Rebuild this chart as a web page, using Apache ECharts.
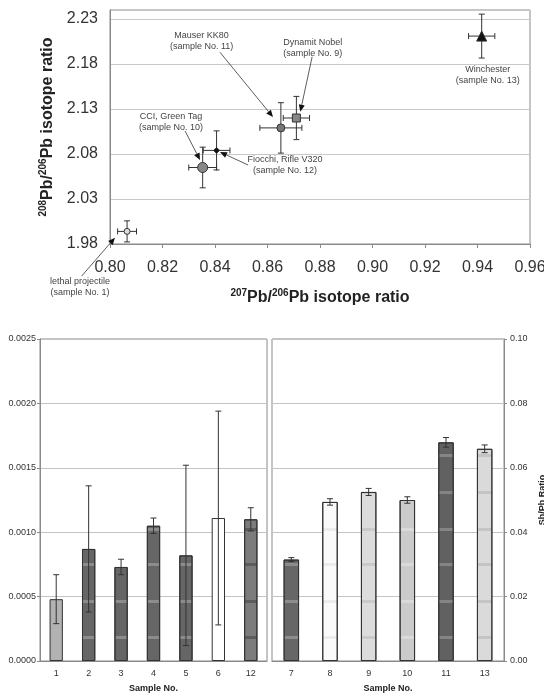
<!DOCTYPE html>
<html>
<head>
<meta charset="utf-8">
<script src="https://cdn.jsdelivr.net/npm/echarts@6/dist/echarts.min.js"></script>
<style>
  html, body { margin: 0; padding: 0; background: #fff; }
  #chart { width: 544px; height: 697px; }
</style>
</head>
<body>
<div id="chart"></div>
<script>
// isotope ratios (top plot), one entry per sample
var isoSamples = ['1', '10', '12', '11', '9', '13'];
var pb207 = [0.8065, 0.8353, 0.8406, 0.8651, 0.8710, 0.9416];
var pb207Err = [0.0036, 0.0053, 0.0051, 0.0080, 0.0050, 0.0050];
var pb208 = [1.994, 2.065, 2.084, 2.109, 2.120, 2.211];
var pb208Err = [0.0117, 0.0226, 0.0217, 0.0280, 0.0240, 0.0244];

// Cd/Pb ratio (bottom left)
var cdSamples = ['1', '2', '3', '4', '5', '6', '12'];
var cdRatio = [0.00048, 0.00087, 0.00073, 0.00105, 0.00082, 0.00111, 0.00110];
var cdErr = [0.00019, 0.00049, 0.00006, 0.00006, 0.00070, 0.00083, 0.00009];

// Sb/Pb ratio (bottom right)
var sbSamples = ['7', '8', '9', '10', '11', '13'];
var sbRatio = [0.0315, 0.0494, 0.0525, 0.0500, 0.0679, 0.0659];
var sbErr = [0.0006, 0.0010, 0.0011, 0.0010, 0.0015, 0.0012];

// annotations, in data units of the top plot
var notes = [
    { text: 'Mauser KK80\n(sample No. 11)', at: [0.8349, 2.206], from: [0.8419, 2.193], to: [0.8621, 2.121] },
    { text: 'Dynamit Nobel\n(sample No. 9)', at: [0.8772, 2.198], from: [0.8770, 2.188], to: [0.8725, 2.127] },
    { text: 'Winchester\n(sample No. 13)', at: [0.9439, 2.168] },
    { text: 'CCI, Green Tag\n(sample No. 10)', at: [0.8232, 2.1156], from: [0.8286, 2.1056], to: [0.8343, 2.0733] },
    { text: 'Fiocchi, Rifle V320\n(sample No. 12)', at: [0.8667, 2.0674], from: [0.8526, 2.0678], to: [0.8419, 2.0822] },
    { text: 'lethal projectile\n(sample No. 1)', at: [0.7886, 1.932], from: [0.7892, 1.9444], to: [0.8019, 1.987] }
]

// marker looks for the top plot
var isoSymbols = ['circle', 'circle', 'diamond', 'circle', 'rect', 'triangle'];
var isoSizes = [6, 10, 6, 8, 8, 10];
var isoFill = ['#dddddd', '#888888', '#111111', '#777777', '#888888', '#111111'];

var FONT = 'Liberation Sans, Arial, sans-serif';
var barTop = 339, barBottom = 661;
var stripeRows = [456, 492.7, 529.3, 565, 601.7, 637.3];

function striped(base, line) {
    var h = barBottom - barTop
    var stops = [{ offset: 0, color: base }]
    stripeRows.forEach(function (y) {
        var a = (y - 1.5 - barTop) / h, b = (y + 1.5 - barTop) / h
        stops.push({ offset: a, color: base }, { offset: a, color: line }, { offset: b, color: line }, { offset: b, color: base })
    })
    stops.push({ offset: 1, color: base })
    return new echarts.graphic.LinearGradient(0, barTop, 0, barBottom, stops, true)
}

var cdColors = ['#b2b2b2', striped('#666666', '#8c8c8c'), striped('#666666', '#8c8c8c'), striped('#666666', '#8c8c8c'),
    striped('#666666', '#8c8c8c'), '#ffffff', striped('#7c7c7c', '#5c5c5c')];
var sbColors = [striped('#676767', '#8c8c8c'), striped('#fafafa', '#ececec'), striped('#dcdcdc', '#c9c9c9'),
    striped('#cbcbcb', '#dadada'), striped('#616161', '#858585'), striped('#dadada', '#c4c4c4')];

function line(x1, y1, x2, y2) {
    return { type: 'line', shape: { x1: x1, y1: y1, x2: x2, y2: y2 }, style: { stroke: '#333', lineWidth: 1 } }
}

function crossBars(params, api) {
    var x = api.value(0), y = api.value(1), ex = api.value(2), ey = api.value(3)
    var l = api.coord([x - ex, y]), r = api.coord([x + ex, y])
    var t = api.coord([x, y + ey]), b = api.coord([x, y - ey])
    var c = 3
    return {
        type: 'group', children: [
            line(l[0], l[1], r[0], r[1]), line(l[0], l[1] - c, l[0], l[1] + c), line(r[0], r[1] - c, r[0], r[1] + c),
            line(t[0], t[1], b[0], b[1]), line(t[0] - c, t[1], t[0] + c, t[1]), line(b[0] - c, b[1], b[0] + c, b[1])
        ]
    }
}

function barErr(params, api) {
    var i = api.value(0), v = api.value(1), e = api.value(2)
    var t = api.coord([i, v + e]), b = api.coord([i, v - e])
    var c = 3
    return {
        type: 'group', children: [
            line(t[0], t[1], b[0], b[1]), line(t[0] - c, t[1], t[0] + c, t[1]), line(b[0] - c, b[1], b[0] + c, b[1])
        ]
    }
}

var nameRich = {
    b: { fontFamily: FONT, fontWeight: 'bold', fontSize: 16, color: '#222', lineHeight: 20 },
    sup: { fontFamily: FONT, fontWeight: 'bold', fontSize: 10, color: '#222', verticalAlign: 'top', lineHeight: 20, padding: [0, 0, 6, 0] }
}

var chart = echarts.init(document.getElementById('chart'))
chart.setOption({
    animation: false,
    textStyle: { fontFamily: FONT },
    grid: [
        { left: 110, top: 10, width: 420, height: 234, show: true, borderColor: '#8a8a8a', borderWidth: 1, outerBoundsMode: 'none' },
        { left: 40, top: barTop, width: 227, height: barBottom - barTop, show: true, borderColor: '#8a8a8a', borderWidth: 1, outerBoundsMode: 'none' },
        { left: 272, top: barTop, width: 232, height: barBottom - barTop, show: true, borderColor: '#8a8a8a', borderWidth: 1, outerBoundsMode: 'none' }
    ],
    xAxis: [
        {
            gridIndex: 0, type: 'value', min: 0.80, max: 0.96, interval: 0.02,
            name: '{sup|207}{b|Pb/}{sup|206}{b|Pb isotope ratio}', nameLocation: 'middle', nameGap: 44,
            nameTextStyle: { rich: nameRich },
            axisLine: { lineStyle: { color: '#8a8a8a' } },
            axisTick: { show: true, length: 4, lineStyle: { color: '#8a8a8a' } },
            axisLabel: { fontSize: 16, color: '#333', margin: 16, formatter: function (v) { return v.toFixed(2) } },
            splitLine: { show: false }
        },
        {
            gridIndex: 1, type: 'category', data: cdSamples,
            name: 'Sample No.', nameLocation: 'middle', nameGap: 23,
            nameTextStyle: { fontSize: 9, fontWeight: 'bold', color: '#222' },
            axisLine: { lineStyle: { color: '#8a8a8a' } },
            axisTick: { length: 3, lineStyle: { color: '#8a8a8a' } },
            axisLabel: { fontSize: 9, color: '#333', margin: 8 }
        },
        {
            gridIndex: 2, type: 'category', data: sbSamples,
            name: 'Sample No.', nameLocation: 'middle', nameGap: 23,
            nameTextStyle: { fontSize: 9, fontWeight: 'bold', color: '#222' },
            axisLine: { lineStyle: { color: '#8a8a8a' } },
            axisTick: { length: 3, lineStyle: { color: '#8a8a8a' } },
            axisLabel: { fontSize: 9, color: '#333', margin: 8 }
        }
    ],
    yAxis: [
        {
            gridIndex: 0, type: 'value', min: 1.98, max: 2.24, interval: 0.05,
            name: '{sup|208}{b|Pb/}{sup|206}{b|Pb isotope ratio}', nameLocation: 'middle', nameGap: 46, nameRotate: 90,
            nameTextStyle: { rich: nameRich },
            axisLine: { show: true, lineStyle: { color: '#8a8a8a' } },
            axisTick: { show: false },
            axisLabel: { fontSize: 16, color: '#333', margin: 12, showMaxLabel: false, formatter: function (v) { return v.toFixed(2) } },
            splitLine: { lineStyle: { color: '#c8c8c8' } }
        },
        {
            gridIndex: 1, type: 'value', min: 0, max: 0.0025, interval: 0.0005,
            name: 'Cd/Pb Ratio', nameLocation: 'middle', nameGap: 39, nameRotate: 90,
            nameTextStyle: { fontSize: 9, fontWeight: 'bold', color: '#222' },
            axisLine: { show: true, lineStyle: { color: '#8a8a8a' } },
            axisTick: { show: true, length: 3, lineStyle: { color: '#8a8a8a' } },
            axisLabel: { fontSize: 9, color: '#333', margin: 4, formatter: function (v) { return v.toFixed(4) } },
            splitLine: { lineStyle: { color: '#c4c4c4' } }
        },
        {
            gridIndex: 2, type: 'value', position: 'right', min: 0, max: 0.10, interval: 0.02,
            name: 'Sb/Pb Ratio', nameLocation: 'middle', nameGap: 34, nameRotate: 90,
            nameTextStyle: { fontSize: 9, fontWeight: 'bold', color: '#222' },
            axisLine: { show: true, lineStyle: { color: '#8a8a8a' } },
            axisTick: { show: true, length: 3, lineStyle: { color: '#8a8a8a' } },
            axisLabel: { fontSize: 9, color: '#333', margin: 6, formatter: function (v) { return v.toFixed(2) } },
            splitLine: { lineStyle: { color: '#c4c4c4' } }
        }
    ],
    series: [
        {
            type: 'custom', xAxisIndex: 0, yAxisIndex: 0, renderItem: crossBars, z: 3,
            encode: { x: 0, y: 1 },
            data: pb207.map(function (v, i) { return [v, pb208[i], pb207Err[i], pb208Err[i]] })
        },
        {
            type: 'scatter', xAxisIndex: 0, yAxisIndex: 0, z: 4,
            data: pb207.map(function (v, i) {
                return {
                    name: isoSamples[i], value: [v, pb208[i]], symbol: isoSymbols[i], symbolSize: isoSizes[i],
                    itemStyle: { color: isoFill[i], borderColor: '#333', borderWidth: 1, opacity: 1 }
                }
            })
        },
        {
            type: 'bar', xAxisIndex: 1, yAxisIndex: 1, barWidth: '41%',
            data: cdRatio.map(function (v, i) {
                return { value: v, itemStyle: { color: cdColors[i], borderColor: '#333', borderWidth: 1 } }
            })
        },
        {
            type: 'custom', xAxisIndex: 1, yAxisIndex: 1, renderItem: barErr, z: 5,
            encode: { x: 0, y: 1 },
            data: cdRatio.map(function (v, i) { return [i, v, cdErr[i]] })
        },
        {
            type: 'bar', xAxisIndex: 2, yAxisIndex: 2, barWidth: '40%',
            data: sbRatio.map(function (v, i) {
                return { value: v, itemStyle: { color: sbColors[i], borderColor: '#333', borderWidth: 1 } }
            })
        },
        {
            type: 'custom', xAxisIndex: 2, yAxisIndex: 2, renderItem: barErr, z: 5,
            encode: { x: 0, y: 1 },
            data: sbRatio.map(function (v, i) { return [i, v, sbErr[i]] })
        }
    ]
})

// labels and arrows placed through the top plot's scales
var graphics = []
notes.forEach(function (n) {
    var p = chart.convertToPixel({ gridIndex: 0 }, n.at)
    graphics.push({
        type: 'text', x: p[0], y: p[1], z: 10,
        style: { text: n.text, fontSize: 9, lineHeight: 11, fill: '#444', font: '9px ' + FONT, align: 'center', verticalAlign: 'middle' }
    })
    if (n.from) {
        var a = chart.convertToPixel({ gridIndex: 0 }, n.from)
        var b = chart.convertToPixel({ gridIndex: 0 }, n.to)
        var dx = b[0] - a[0], dy = b[1] - a[1], len = Math.sqrt(dx * dx + dy * dy)
        var ux = dx / len, uy = dy / len, hl = 7, hw = 3
        var bx = b[0] - ux * hl, by = b[1] - uy * hl
        graphics.push({
            type: 'line', z: 10, shape: { x1: a[0], y1: a[1], x2: bx, y2: by },
            style: { stroke: '#333', lineWidth: 0.8 }
        })
        graphics.push({
            type: 'polygon', z: 10,
            shape: { points: [[b[0], b[1]], [bx - uy * hw, by + ux * hw], [bx + uy * hw, by - ux * hw]] },
            style: { fill: '#111' }
        })
    }
})
chart.setOption({ graphic: graphics })
</script>
</body>
</html>
